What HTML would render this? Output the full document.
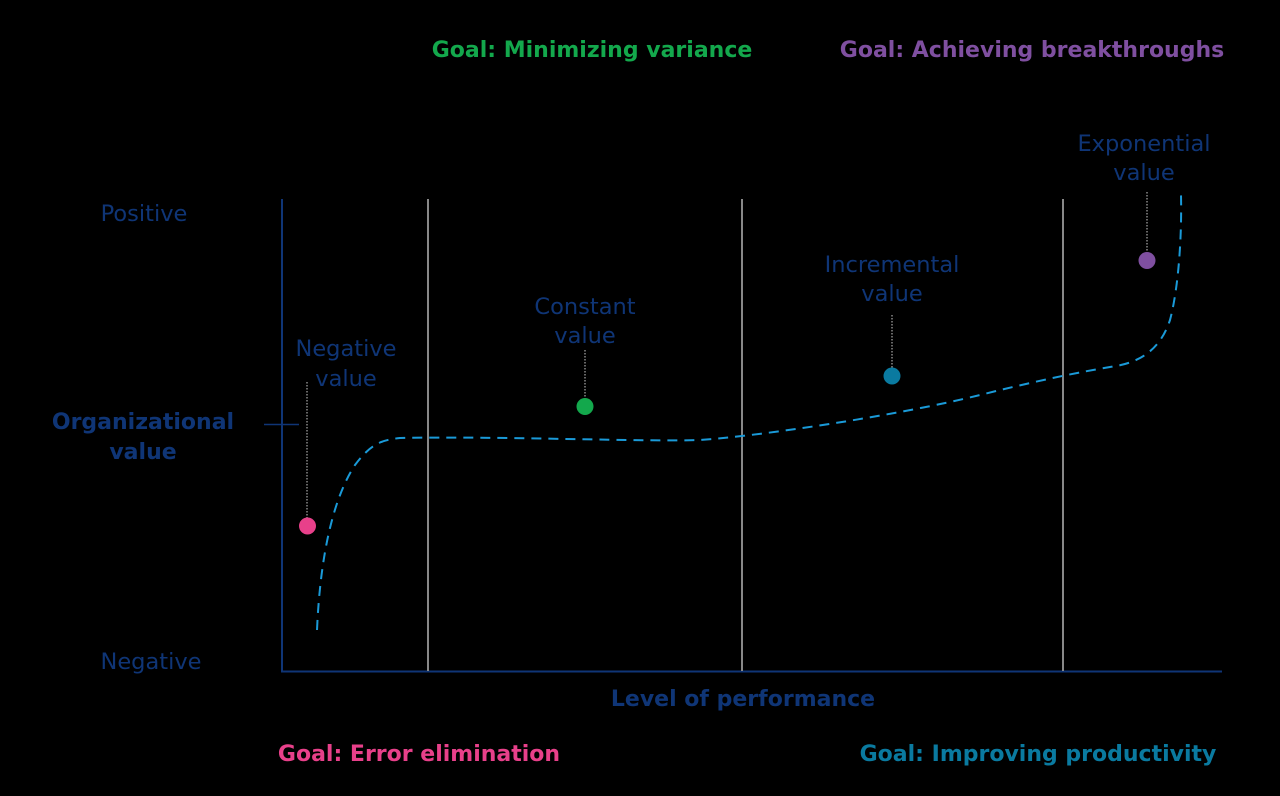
<!DOCTYPE html>
<html><head><meta charset="utf-8"><style>
html,body{margin:0;padding:0;background:#000;}
svg{display:block}
text{font-family:"DejaVu Sans","Liberation Sans",sans-serif;}
</style></head><body>
<svg width="1280" height="796" viewBox="0 0 1280 796">
<rect width="1280" height="796" fill="#000"/>
<text x="592" y="57" fill="#13a84c" font-size="22" font-weight="bold" text-anchor="middle">Goal: Minimizing variance</text>
<text x="1032" y="57" fill="#7f4fa0" font-size="22" font-weight="bold" text-anchor="middle">Goal: Achieving breakthroughs</text>
<text x="419" y="761" fill="#e8408a" font-size="22" font-weight="bold" text-anchor="middle">Goal: Error elimination</text>
<text x="1038" y="761" fill="#0a7aa0" font-size="22" font-weight="bold" text-anchor="middle">Goal: Improving productivity</text>
<text x="743" y="706" fill="#0f3576" font-size="22" font-weight="bold" text-anchor="middle">Level of performance</text>
<text x="143" y="429" fill="#0f3576" font-size="22" font-weight="bold" text-anchor="middle">Organizational</text>
<text x="143" y="459" fill="#0f3576" font-size="22" font-weight="bold" text-anchor="middle">value</text>
<g fill="#0f3576" font-size="22.5" text-anchor="middle">
<text x="144" y="221">Positive</text>
<text x="151" y="669">Negative</text>
<text x="346" y="356">Negative</text><text x="346" y="386">value</text>
<text x="585" y="314">Constant</text><text x="585" y="343">value</text>
<text x="892" y="272">Incremental</text><text x="892" y="301">value</text>
<text x="1144" y="151">Exponential</text><text x="1144" y="180">value</text>
</g>
<line x1="282" y1="199" x2="282" y2="672" stroke="#0f3576" stroke-width="2"/>
<line x1="281" y1="671.5" x2="1222" y2="671.5" stroke="#0f3576" stroke-width="2"/>
<line x1="264" y1="424.5" x2="299" y2="424.5" stroke="#0f3576" stroke-width="1.5"/>
<g stroke="#888" stroke-width="2">
<line x1="428" y1="199" x2="428" y2="671"/>
<line x1="742" y1="199" x2="742" y2="671"/>
<line x1="1063" y1="199" x2="1063" y2="671"/>
</g>
<g stroke="#ccc" stroke-width="1" stroke-dasharray="1.5,1.5">
<line x1="307" y1="382" x2="307" y2="522"/>
<line x1="585" y1="350" x2="585" y2="404"/>
<line x1="892" y1="315" x2="892" y2="373"/>
<line x1="1147" y1="192" x2="1147" y2="258"/>
</g>
<path d="M317,630 C320,560 332,500 355,465 C370,445 380,440 400,438 C500,436 650,442 700,440 C760,436 900,415 980,395 C1040,380 1080,372 1110,367 C1140,363 1160,350 1170,320 C1178,290 1182,240 1181,195" fill="none" stroke="#1a9ad8" stroke-width="2" stroke-dasharray="10,7"/>
<circle cx="307.5" cy="526" r="8.5" fill="#e8408a"/>
<circle cx="585" cy="406.5" r="8.5" fill="#13a84c"/>
<circle cx="892" cy="376" r="8.5" fill="#0a7aa0"/>
<circle cx="1147" cy="260.5" r="8.5" fill="#7f4fa0"/>
</svg>
</body></html>
